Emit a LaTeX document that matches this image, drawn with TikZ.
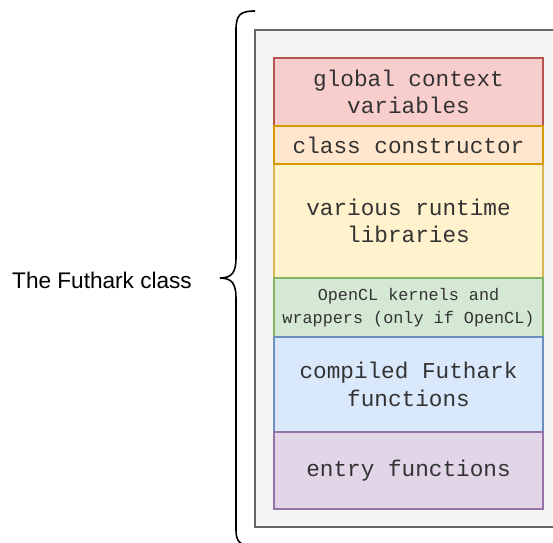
\documentclass[tikz,border=0pt]{standalone}
\usepackage{fontspec}
\setmainfont{Liberation Sans}
\setmonofont{Liberation Mono}
\begin{document}
\begin{tikzpicture}[x=1pt,y=-1pt,
  layer/.style={draw, line width=1.5pt, rectangle, inner sep=0pt,
    minimum width=269pt, align=center, text=black!80,
    font=\ttfamily\fontsize{22.7}{27.7}\selectfont},
  smalllayer/.style={layer, font=\ttfamily\fontsize{16.8}{22.7}\selectfont}]
\definecolor{redF}{HTML}{F8CECC}\definecolor{redS}{HTML}{B85450}
\definecolor{orgF}{HTML}{FFE6CC}\definecolor{orgS}{HTML}{D79B00}
\definecolor{yelF}{HTML}{FFF2CC}\definecolor{yelS}{HTML}{D6B656}
\definecolor{grnF}{HTML}{D5E8D4}\definecolor{grnS}{HTML}{82B366}
\definecolor{bluF}{HTML}{DAE8FC}\definecolor{bluS}{HTML}{6C8EBF}
\definecolor{purF}{HTML}{E1D5E7}\definecolor{purS}{HTML}{9673A6}
\definecolor{gryF}{HTML}{F5F5F5}\definecolor{gryS}{HTML}{666666}
\useasboundingbox (0,0) rectangle (553,542);
\clip (0,0) rectangle (553,542);
% outer container
\node[draw=gryS, fill=gryF, line width=1.5pt, rectangle, inner sep=0pt,
  minimum width=307pt, minimum height=497pt] (outer) at (408.5,278.5) {};
% stacked layers
\node[layer, fill=redF, draw=redS, minimum height=68pt] (ctx) at (408.5,92)
  {global context\\variables};
\node[layer, fill=yelF, draw=yelS, minimum height=114pt] (rt) at (408.5,221)
  {various runtime\\libraries};
\node[layer, fill=orgF, draw=orgS, minimum height=38pt] (ctor) at (408.5,145)
  {class constructor};
\node[smalllayer, fill=grnF, draw=grnS, minimum height=59pt] (ocl) at (408.5,307.5)
  {OpenCL kernels and\\wrappers (only if OpenCL)};
\node[layer, fill=bluF, draw=bluS, minimum height=95pt] (fun) at (408.5,384.5)
  {compiled Futhark\\functions};
\node[layer, fill=purF, draw=purS, minimum height=77pt] (ent) at (408.5,470.5)
  {entry functions};
% brace and label
\coordinate (btop) at (255,11);
\coordinate (bmid) at (220,278);
\coordinate (bbot) at (255,546);
\draw[line width=1.6pt]
  (btop) .. controls (240,11) and (236,15) .. (236,30)
  -- (236,258) .. controls (236,272) and (232,278) .. (bmid)
  (bmid) .. controls (232,278) and (236,284) .. (236,298)
  -- (236,530) .. controls (236,542) and (240,546) .. (bbot);
\node[font=\fontsize{22.6}{26}\selectfont, anchor=east, inner sep=0pt] (lbl) at (192,280) {The Futhark class};
\end{tikzpicture}
\end{document}
